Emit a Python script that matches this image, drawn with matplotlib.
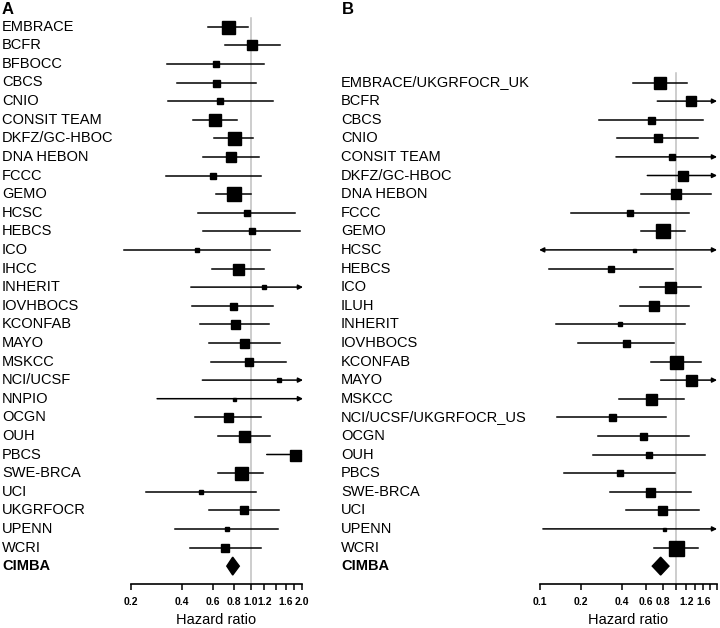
import numpy as np
import matplotlib
matplotlib.use('Agg')
import matplotlib.pyplot as plt
import matplotlib.transforms as mtransforms
from matplotlib.patches import Polygon

plt.rcParams['font.family'] = ['Liberation Sans', 'DejaVu Sans']

# ---- panel A data ----
studies_a = ['EMBRACE', 'BCFR', 'BFBOCC', 'CBCS', 'CNIO', 'CONSIT TEAM', 'DKFZ/GC-HBOC',
             'DNA HEBON', 'FCCC', 'GEMO', 'HCSC', 'HEBCS', 'ICO', 'IHCC', 'INHERIT',
             'IOVHBOCS', 'KCONFAB', 'MAYO', 'MSKCC', 'NCI/UCSF', 'NNPIO', 'OCGN', 'OUH',
             'PBCS', 'SWE-BRCA', 'UCI', 'UKGRFOCR', 'UPENN', 'WCRI']
hr_a = [0.741, 1.015, 0.626, 0.628, 0.663, 0.620, 0.800, 0.769, 0.601, 0.804, 0.949, 1.023,
        0.487, 0.841, 1.197, 0.786, 0.811, 0.919, 0.975, 1.458, 0.800, 0.741, 0.915, 1.822,
        0.879, 0.512, 0.915, 0.726, 0.712]
lo_a = [0.567, 0.709, 0.327, 0.371, 0.331, 0.460, 0.614, 0.530, 0.320, 0.626, 0.496, 0.530,
        0.184, 0.593, 0.448, 0.457, 0.509, 0.572, 0.588, 0.523, 0.285, 0.476, 0.646, 1.241,
        0.648, 0.245, 0.574, 0.363, 0.442]
hi_a = [0.962, 1.484, 1.197, 1.075, 1.345, 0.837, 1.037, 1.115, 1.145, 1.000, 1.814, 1.940,
        1.297, 1.197, 2.500, 1.345, 1.275, 1.484, 1.608, 2.500, 2.500, 1.150, 1.302, 2.500,
        1.186, 1.075, 1.458, 1.450, 1.150]
weight_a = [13, 10, 6, 7, 6, 12, 13, 10, 6, 14, 6, 6, 4, 11, 4, 7, 9, 9, 8, 4, 3, 9, 11, 11,
            13, 5, 8, 5, 8]
pooled_a = (0.786, 0.726, 0.859)
ticks_a = [0.2, 0.4, 0.6, 0.8, 1.0, 1.2, 1.4, 1.6, 1.8, 2.0]
ticklabels_a = ['0.2', '0.4', '0.6', '0.8', '1.0', '1.2', '', '1.6', '', '2.0']

# ---- panel B data ----
studies_b = ['EMBRACE/UKGRFOCR_UK', 'BCFR', 'CBCS', 'CNIO', 'CONSIT TEAM', 'DKFZ/GC-HBOC',
             'DNA HEBON', 'FCCC', 'GEMO', 'HCSC', 'HEBCS', 'ICO', 'ILUH', 'INHERIT',
             'IOVHBOCS', 'KCONFAB', 'MAYO', 'MSKCC', 'NCI/UCSF/UKGRFOCR_US', 'OCGN', 'OUH',
             'PBCS', 'SWE-BRCA', 'UCI', 'UPENN', 'WCRI']
hr_b = [0.766, 1.296, 0.654, 0.737, 0.934, 1.138, 1.005, 0.461, 0.802, 0.493, 0.334, 0.908,
        0.696, 0.389, 0.430, 1.000, 1.296, 0.654, 0.338, 0.577, 0.632, 0.389, 0.647, 0.797,
        0.824, 1.000]
lo_b = [0.487, 0.732, 0.274, 0.371, 0.363, 0.618, 0.552, 0.168, 0.552, 0.080, 0.116, 0.546,
        0.389, 0.131, 0.191, 0.654, 0.775, 0.382, 0.134, 0.266, 0.247, 0.151, 0.328, 0.430,
        0.105, 0.692]
hi_b = [1.205, 2.500, 1.580, 1.453, 2.500, 2.500, 1.811, 1.260, 1.177, 2.500, 0.960, 1.529,
        1.247, 1.171, 0.972, 1.536, 2.500, 1.150, 0.848, 1.260, 1.644, 0.993, 1.290, 1.485,
        2.500, 1.467]
weight_b = [12, 10, 7, 8, 6, 10, 10, 6, 14, 3, 6, 11, 10, 5, 7, 13, 11, 11, 7, 7, 6, 6, 9, 9,
            3, 15]
pooled_b = (0.775, 0.672, 0.893)
ticks_b = [0.1, 0.2, 0.4, 0.6, 0.8, 1.0, 1.2, 1.4, 1.6, 1.8, 2.0]
ticklabels_b = ['0.1', '0.2', '0.4', '0.6', '0.8', '', '1.2', '', '1.6', '', '']

W, H = 720, 628
ROW0, STEP = 26.7, 18.6      # pixel y of the first row, row spacing
Y_TOP, Y_BOT = 10, 584

fig = plt.figure(figsize=(W / 100, H / 100), dpi=100)


def add_panel(x0, x1, xmin, xmax, names, hr, lo, hi, weight, pooled, ticks, ticklabels,
              offset, label_px, line_top):
    ax = fig.add_axes([x0 / W, 1 - Y_BOT / H, (x1 - x0) / W, (Y_BOT - Y_TOP) / H])
    ax.set_xscale('log')
    ax.set_xlim(xmin, xmax)
    ax.set_ylim((Y_BOT - ROW0) / STEP, (Y_TOP - ROW0) / STEP)
    lab_tr = mtransforms.blended_transform_factory(fig.transFigure, ax.transData)
    ends = (xmin * 0.985, xmax * 1.01)
    for i, name in enumerate(names):
        y = offset + i
        a, b = lo[i], hi[i]
        # only whiskers running well past the axis get an arrow head
        left_out, right_out = a < xmin * 0.9, b > xmax
        if left_out or right_out:
            a2 = ends[0] if left_out else a
            b2 = ends[1] if right_out else b
            style = '<|-|>' if (left_out and right_out) else ('-|>' if right_out else '<|-')
            ax.annotate('', xy=(b2, y), xytext=(a2, y), annotation_clip=False,
                        arrowprops=dict(arrowstyle=style, color='black', lw=1.1,
                                        mutation_scale=7, shrinkA=0, shrinkB=0))
        else:
            ax.plot([a, b], [y, y], color='black', lw=1.1, clip_on=False)
        ax.plot(hr[i], y, 's', color='black', ms=weight[i] * 0.72, clip_on=False, zorder=3)
        ax.text(label_px / W, y, name, transform=lab_tr, va='center', ha='left', fontsize=10.5)
    yp = offset + len(names)
    est, plo, phi = pooled
    ax.add_patch(Polygon([(plo, yp), (est, yp - 0.48), (phi, yp), (est, yp + 0.48)],
                         closed=True, color='black', clip_on=False, zorder=3))
    ax.text(label_px / W, yp, 'CIMBA', transform=lab_tr, va='center', ha='left',
            fontsize=10.5, fontweight='bold')
    ax.plot([1, 1], [line_top, (Y_BOT - ROW0) / STEP], color='#c0c0c0', lw=1.1, zorder=0)
    for s in ['top', 'left', 'right']:
        ax.spines[s].set_visible(False)
    ax.spines['bottom'].set_linewidth(1.2)
    ax.set_yticks([])
    ax.set_xticks(ticks)
    ax.set_xticklabels(ticklabels, fontsize=7.5, fontweight='bold')
    ax.xaxis.set_minor_locator(matplotlib.ticker.NullLocator())
    ax.tick_params(axis='x', direction='out', length=4, width=1.1, pad=5.5)
    ax.set_xlabel('Hazard ratio', fontsize=10.5, labelpad=4.5)
    ax.patch.set_visible(False)
    return ax


add_panel(130.7, 302.3, 0.2, 2.0, studies_a, hr_a, lo_a, hi_a, weight_a, pooled_a,
          ticks_a, ticklabels_a, 0, 2, -0.45)
add_panel(540.0, 716.5, 0.1, 2.0, studies_b, hr_b, lo_b, hi_b, weight_b, pooled_b,
          ticks_b, ticklabels_b, 3, 341, 2.5)

fig.text(2 / W, 1 - 10 / H, 'A', fontsize=12, fontweight='bold', va='center', ha='left')
fig.text(342 / W, 1 - 10 / H, 'B', fontsize=12, fontweight='bold', va='center', ha='left')

fig.savefig('out.png', dpi=100)
